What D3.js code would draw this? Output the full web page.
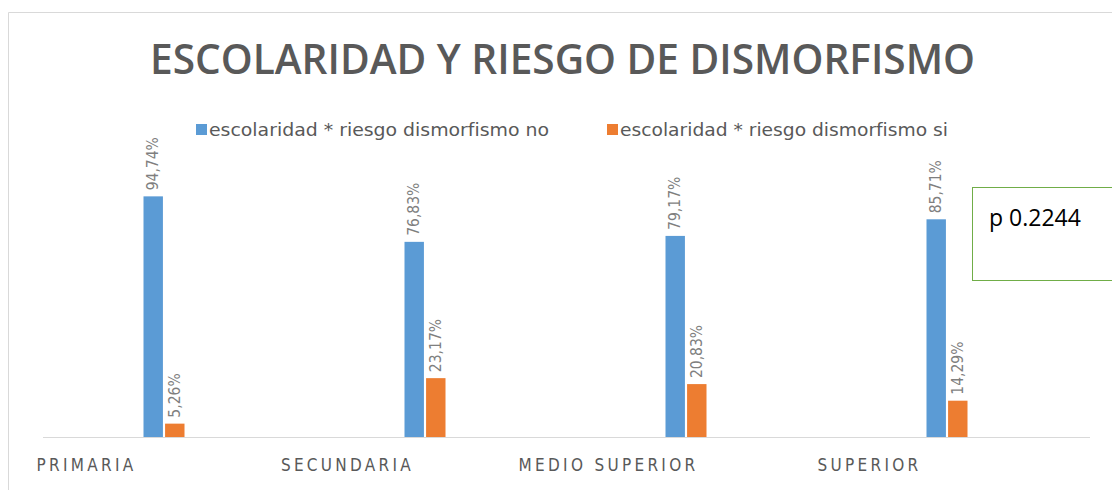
<!DOCTYPE html>
<html lang="es">
<head>
<meta charset="UTF-8">
<title>Escolaridad y riesgo de dismorfismo</title>
<script src="https://cdn.jsdelivr.net/npm/d3@7"></script>
<style>
    body { margin: 0; background: #fff; }
    svg text { font-family: "Liberation Sans Narrow", "DejaVu Sans Condensed", "Open Sans", sans-serif; }
</style>
</head>
<body>
<svg width="1112" height="490"></svg>
<script>
    // data
    var categories = ["PRIMARIA", "SECUNDARIA", "MEDIO SUPERIOR", "SUPERIOR"];
    var seriesNames = ["escolaridad * riesgo dismorfismo no", "escolaridad * riesgo dismorfismo si"];
    var valuesNo = [94.74, 76.83, 79.17, 85.71];
    var valuesSi = [5.26, 23.17, 20.83, 14.29];
    var colors = ["#5b9bd5", "#ed7d31"];

    var svg = d3.select("svg"),
        width = +svg.attr("width"),
        height = +svg.attr("height");

    // chart frame (cropped at right/bottom)
    svg.append("path")
        .attr("d", "M8.5," + height + "V12.5H" + width)
        .attr("fill", "none")
        .attr("stroke", "#d9d9d9");

    svg.append("text")
        .attr("x", 150).attr("y", 74)
        .attr("textLength", 825)
        .attr("lengthAdjust", "spacingAndGlyphs")
        .style("font-family", "'Open Sans', sans-serif")
        .style("font-size", "42px")
        .style("font-weight", "600")
        .attr("fill", "#595959")
        .text("ESCOLARIDAD Y RIESGO DE DISMORFISMO");

    var x = d3.scaleBand().domain(categories).range([33, 1077]);
    var xs = d3.scaleBand().domain([0, 1]).range([-20, 21]).paddingInner(0.1);
    var y = d3.scaleLinear().domain([0, 100]).range([437, 183]);

    // axis line
    svg.append("line")
        .attr("x1", 43).attr("x2", 1090)
        .attr("y1", 437.5).attr("y2", 437.5)
        .attr("stroke", "#d9d9d9");

    var data = [];
    categories.forEach(function (c, i) {
        data.push({cat: c, s: 0, v: valuesNo[i]});
        data.push({cat: c, s: 1, v: valuesSi[i]});
    });

    function cx(d) {
        return x(d.cat) + x.bandwidth() / 2 + xs(d.s);
    }

    svg.append("g").selectAll("rect")
        .data(data)
        .enter().append("rect")
        .attr("x", cx)
        .attr("width", xs.bandwidth())
        .attr("y", function (d) { return y(d.v); })
        .attr("height", function (d) { return y(0) - y(d.v); })
        .attr("fill", function (d) { return colors[d.s]; });

    svg.append("g").selectAll("text")
        .data(data)
        .enter().append("text")
        .attr("transform", function (d) {
            return "translate(" + (cx(d) + xs.bandwidth() / 2 + 5) + "," + (y(d.v) - 6) + ") rotate(-90)";
        })
        .style("font-size", "15.5px")
        .attr("fill", "#7f7f7f")
        .text(function (d) { return d3.format(".2f")(d.v).replace(".", ",") + "%"; });

    // category labels (sit left of their bars, as in the source)
    svg.append("g").selectAll("text")
        .data(categories)
        .enter().append("text")
        .attr("x", function (d) { return x(d) + x.bandwidth() / 2 - 77; })
        .attr("y", 471)
        .attr("text-anchor", "middle")
        .style("font-size", "17px")
        .style("letter-spacing", "3.3px")
        .attr("fill", "#595959")
        .text(function (d) { return d; });

    // legend
    var legendX = [196, 607];
    var legend = svg.append("g").selectAll("g")
        .data(seriesNames)
        .enter().append("g")
        .attr("transform", function (d, i) { return "translate(" + legendX[i] + ",124)"; });
    legend.append("rect")
        .attr("width", 11).attr("height", 11)
        .attr("fill", function (d, i) { return colors[i]; });
    legend.append("text")
        .attr("x", 13).attr("y", 12)
        .attr("textLength", function (d, i) { return i ? 328 : 340; })
        .attr("lengthAdjust", "spacingAndGlyphs")
        .style("font-size", "17px")
        .attr("fill", "#595959")
        .text(function (d) { return d; });

    // p value box
    svg.append("rect")
        .attr("x", 972.5).attr("y", 187.5)
        .attr("width", 150).attr("height", 93)
        .attr("fill", "#fff")
        .attr("stroke", "#70ad47");
    svg.append("text")
        .attr("x", 989).attr("y", 226)
        .style("font-family", "'Open Sans', sans-serif")
        .style("font-size", "23px")
        .attr("fill", "#000")
        .text("p 0.2244");
</script>
</body>
</html>
